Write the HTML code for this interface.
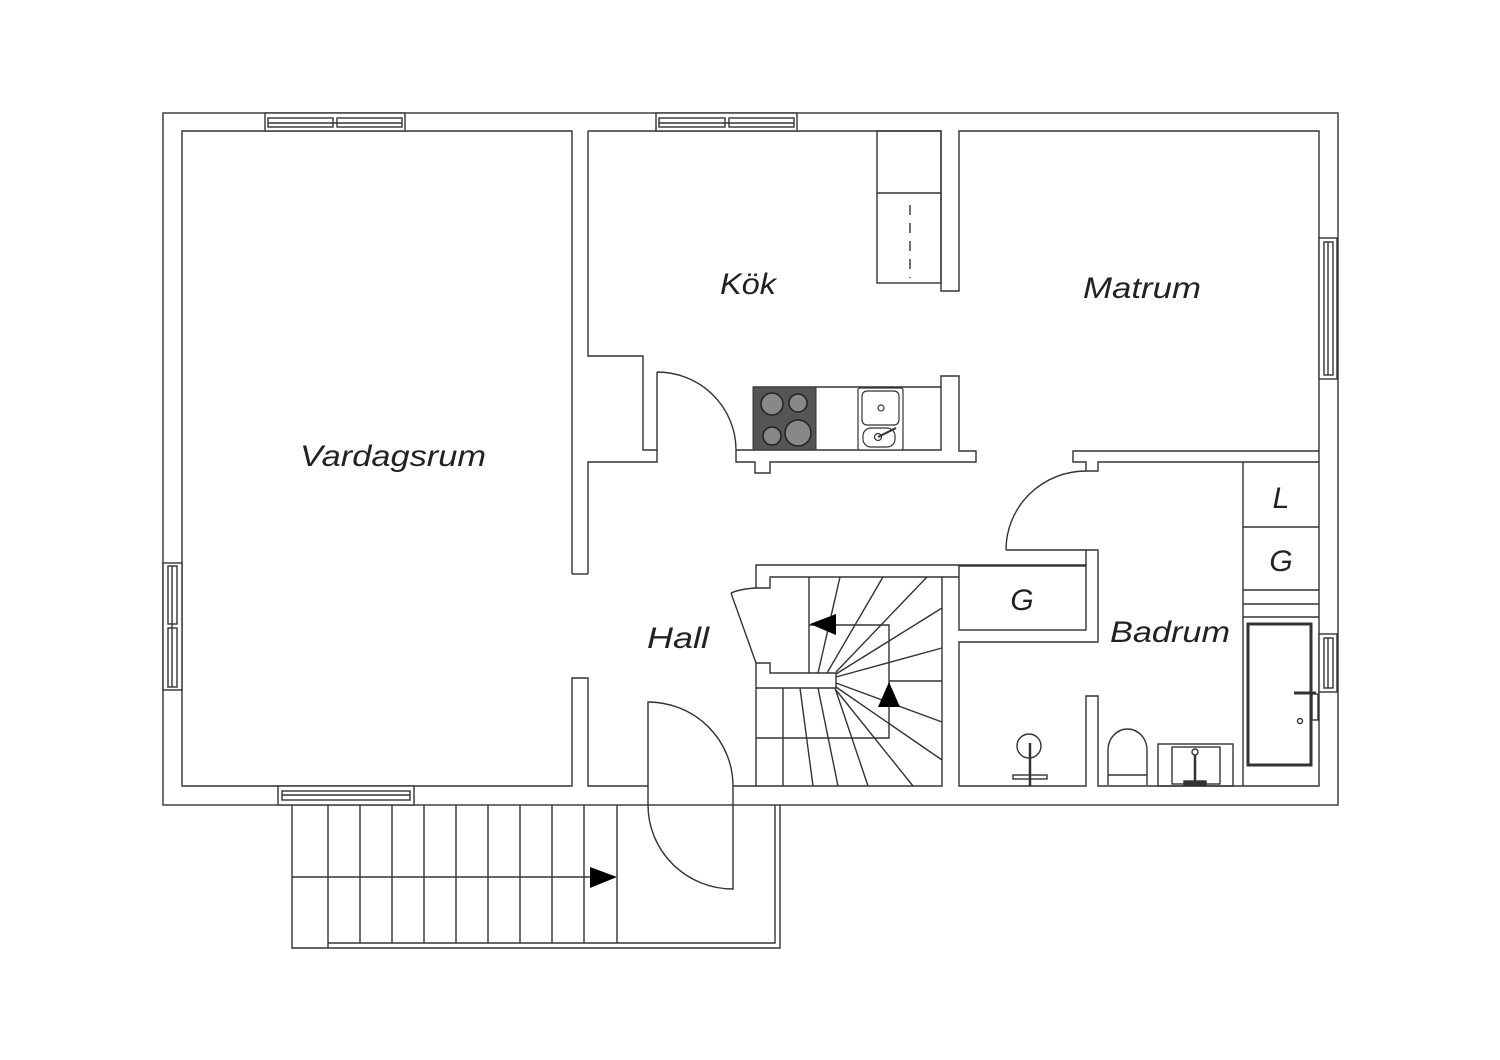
<!DOCTYPE html>
<html><head><meta charset="utf-8"><style>
html,body{margin:0;padding:0;background:#fff}
svg{display:block}
text{font-family:"Liberation Sans",sans-serif;font-style:italic;fill:#222}
</style></head><body>
<svg width="1500" height="1060" viewBox="0 0 1500 1060" xmlns="http://www.w3.org/2000/svg">
<rect width="1500" height="1060" fill="#fff"/>
<g fill="none" stroke="#333" stroke-width="1.4" stroke-linejoin="miter">
<!-- outer -->
<rect x="163" y="113" width="1175" height="692"/>
<!-- vardagsrum -->
<polyline points="572,574 572,131 182,131 182,786 572,786 572,678 588,678 588,786 648,786"/>
<line x1="572" y1="574" x2="588" y2="574"/>
<!-- hall left wall / kitchen door jamb -->
<polyline points="588,574 588,462 657,462 657,372"/>
<path d="M657,372 A79,78 0 0 1 736,450"/>
<polyline points="588,131 588,356 643,356 643,450 657,450"/>
<!-- top walls -->
<polyline points="588,131 941,131 941,291 959,291 959,131 1319,131 1319,786 1098,786 1098,696 1086,696 1086,786 959,786 959,642 1098,642 1098,550 1086,550 1086,565 756,565 756,588 770,588 770,577 942,577 942,786 756,786 756,663 770,663 770,673 836,673 836,688 756,688"/>
<line x1="733" y1="786" x2="756" y2="786"/>
<!-- kitchen counter wall -->
<polyline points="736,450 941,450 941,376 959,376 959,451 976,451 976,462 770,462 770,473 755,473 755,462 736,462 736,450"/>
<line x1="753" y1="387" x2="941" y2="387"/>
<!-- cabinet -->
<rect x="877" y="131" width="64" height="152"/>
<line x1="877" y1="193" x2="941" y2="193"/>
<line x1="910" y1="205" x2="910" y2="278" stroke-dasharray="10,8"/>
<!-- matrum bottom / badrum top -->
<polyline points="1319,451 1073,451 1073,462 1086,462 1086,471 1098,471 1098,462 1319,462"/>
<!-- badrum door -->
<path d="M1086,471 A80,79 0 0 0 1006,550"/>
<line x1="1006" y1="550" x2="1086" y2="550"/>
<!-- G closet -->
<rect x="959" y="566" width="127" height="64"/>
<line x1="942" y1="577" x2="959" y2="577"/>
<!-- L/G cabinets -->
<line x1="1243" y1="462" x2="1243" y2="786"/>
<line x1="1243" y1="527" x2="1319" y2="527"/>
<line x1="1243" y1="590" x2="1319" y2="590"/>
<line x1="1243" y1="604" x2="1319" y2="604"/>
<line x1="1243" y1="617" x2="1319" y2="617"/>
<rect x="1248" y="624" width="63" height="141" stroke-width="3"/>
<line x1="1294" y1="693" x2="1316" y2="693" stroke-width="3"/>
<rect x="1312" y="694" width="6" height="26"/>
<circle cx="1300" cy="721" r="2.5"/>
<!-- toilet -->
<path d="M1108,785 V750 A19.5,21 0 0 1 1147,750 V785"/>
<line x1="1108" y1="775" x2="1147" y2="775"/>
<!-- sink -->
<rect x="1158" y="744" width="75" height="42"/>
<rect x="1172" y="747" width="48" height="37"/>
<line x1="1195" y1="755" x2="1195" y2="782" stroke-width="2.5"/>
<circle cx="1195" cy="752" r="3"/>
<rect x="1184" y="781" width="22" height="4" fill="#333"/>
<!-- WC fixture -->
<circle cx="1029" cy="746" r="12"/>
<line x1="1030" y1="743" x2="1030" y2="786" stroke-width="2.5"/>
<rect x="1013" y="775" width="34" height="4"/>
<!-- front door -->
<path d="M648,786 V702 A85,84 0 0 1 733,786"/>
<path d="M648,786 V805 A85,84 0 0 0 733,889 V786"/>
<!-- stairs -->
<path d="M731,593 Q740,589 756,588 M731,593 L756,663"/>
<line x1="809" y1="577" x2="809" y2="673"/>
<polyline points="809,625 889,625 889,738 756,738"/>
<line x1="889" y1="681" x2="942" y2="681"/>
<line x1="818" y1="673" x2="840" y2="577"/>
<line x1="827" y1="673" x2="883" y2="577"/>
<line x1="836" y1="672" x2="927" y2="577"/>
<line x1="836" y1="674" x2="942" y2="608"/>
<line x1="836" y1="677" x2="942" y2="648"/>
<line x1="836" y1="683" x2="942" y2="722"/>
<line x1="836" y1="687" x2="942" y2="760"/>
<line x1="836" y1="690" x2="913" y2="786"/>
<line x1="835" y1="688" x2="868" y2="786"/>
<line x1="818" y1="688" x2="838" y2="786"/>
<line x1="800" y1="688" x2="813" y2="786"/>
<line x1="783" y1="688" x2="783" y2="786"/>
<!-- outdoor stairs -->
<polyline points="292,805 292,948 780,948 780,805"/>
<polyline points="328,948 328,943 775,943 775,805"/>
<line x1="328" y1="805" x2="328" y2="943"/>
<line x1="360" y1="805" x2="360" y2="943"/>
<line x1="392" y1="805" x2="392" y2="943"/>
<line x1="424" y1="805" x2="424" y2="943"/>
<line x1="456" y1="805" x2="456" y2="943"/>
<line x1="488" y1="805" x2="488" y2="943"/>
<line x1="520" y1="805" x2="520" y2="943"/>
<line x1="552" y1="805" x2="552" y2="943"/>
<line x1="584" y1="805" x2="584" y2="943"/>
<line x1="617" y1="805" x2="617" y2="943"/>
<line x1="292" y1="877" x2="590" y2="877"/>
<!-- windows -->
<g fill="#fff">
<rect x="265" y="113" width="140" height="18"/>
<rect x="656" y="113" width="141" height="18"/>
<rect x="163" y="563" width="19" height="127"/>
<rect x="278" y="786" width="136" height="19"/>
<rect x="1319" y="238" width="18" height="141"/>
<rect x="1319" y="634" width="18" height="58"/>
</g>
<rect x="268" y="118" width="65" height="9"/><rect x="337" y="118" width="65" height="9"/><line x1="268" y1="123" x2="402" y2="123"/>
<rect x="659" y="118" width="66" height="9"/><rect x="729" y="118" width="65" height="9"/><line x1="659" y1="123" x2="794" y2="123"/>
<rect x="168" y="566" width="9" height="58"/><rect x="168" y="628" width="9" height="59"/><line x1="172" y1="566" x2="172" y2="687"/>
<rect x="282" y="791" width="128" height="9"/><line x1="282" y1="795" x2="410" y2="795"/>
<rect x="1324" y="242" width="9" height="133"/><line x1="1328" y1="242" x2="1328" y2="375"/>
<rect x="1324" y="638" width="9" height="50"/><line x1="1328" y1="638" x2="1328" y2="688"/>
</g>
<!-- arrows -->
<g fill="#000">
<polygon points="810,624 836,614 836,635"/>
<polygon points="889,682 878,707 900,707"/>
<polygon points="617,877 590,867 590,888"/>
</g>
<!-- stove -->
<rect x="753" y="387" width="63" height="63" fill="#555" stroke="#333"/>
<g fill="#888" stroke="#222" stroke-width="1.5">
<circle cx="772" cy="404" r="11"/><circle cx="798" cy="403" r="9"/>
<circle cx="772" cy="436" r="9"/><circle cx="798" cy="433" r="13"/>
</g>
<!-- kitchen sink -->
<g fill="#fff" stroke="#333" stroke-width="1.2">
<rect x="858" y="388" width="45" height="62" rx="2"/>
<rect x="862" y="391" width="37" height="34" rx="5"/>
<rect x="863" y="428" width="32" height="19" rx="8"/>
<circle cx="881" cy="408" r="3"/>
<circle cx="878" cy="437" r="3.5"/>
<line x1="878" y1="437" x2="896" y2="428" stroke-width="2"/>
</g>
<!-- labels -->
<text x="393" y="466" font-size="30" text-anchor="middle" textLength="186" lengthAdjust="spacingAndGlyphs">Vardagsrum</text>
<text x="748" y="294" font-size="30" text-anchor="middle" textLength="56" lengthAdjust="spacingAndGlyphs">Kök</text>
<text x="1142" y="298" font-size="30" text-anchor="middle" textLength="118" lengthAdjust="spacingAndGlyphs">Matrum</text>
<text x="678" y="648" font-size="30" text-anchor="middle" textLength="62" lengthAdjust="spacingAndGlyphs">Hall</text>
<text x="1170" y="642" font-size="30" text-anchor="middle" textLength="120" lengthAdjust="spacingAndGlyphs">Badrum</text>
<text x="1022" y="610" font-size="30" text-anchor="middle">G</text>
<text x="1281" y="508" font-size="30" text-anchor="middle">L</text>
<text x="1281" y="571" font-size="30" text-anchor="middle">G</text>
</svg>
</body></html>
